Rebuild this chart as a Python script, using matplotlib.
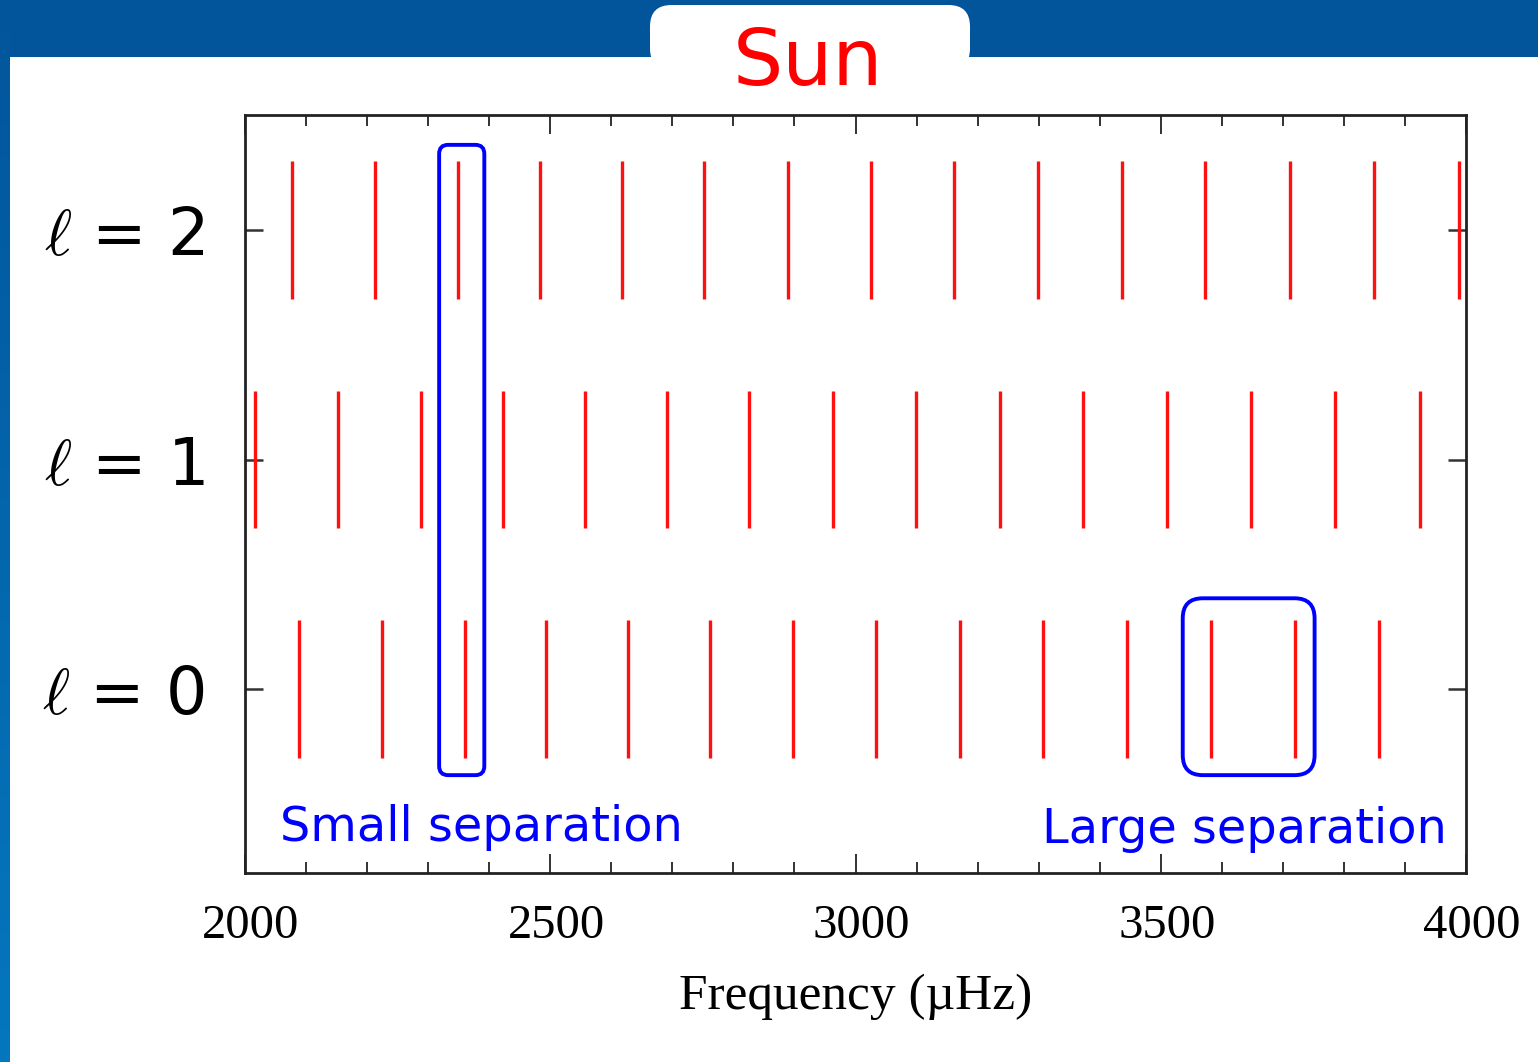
"""Solar p-mode frequencies for l = 0, 1, 2 with small/large separation markers."""

import matplotlib

matplotlib.use("Agg")
import matplotlib.pyplot as plt
import matplotlib.transforms as mtransforms
import numpy as np
from matplotlib.patches import FancyBboxPatch, Rectangle

# mode frequencies (muHz)
FREQ_L0 = [2088, 2225, 2360, 2493, 2627, 2762, 2898, 3034, 3171, 3307, 3444, 3582, 3720, 3858]
FREQ_L1 = [2017, 2153, 2288, 2423, 2557, 2692, 2826, 2963, 3099, 3236, 3373, 3510, 3648, 3786, 3924]
FREQ_L2 = [2077, 2213, 2349, 2483, 2617, 2752, 2889, 3025, 3162, 3299, 3436, 3573, 3711, 3850, 3988]
DEGREES = [0, 1, 2]
DEGREE_LABELS = [r"$\ell$ = 0", r"$\ell$ = 1", r"$\ell$ = 2"]
XTICKS = [2000, 2500, 3000, 3500, 4000]

# annotation boxes: (x0, x1, y0, y1) in data units
SMALL_BOX = (2318, 2392, -0.374, 2.37)
LARGE_BOX = (3536, 3752, -0.374, 0.396)

W, H = 1538, 1062
BAND = "#02559b"


def main() -> None:
    plt.rcParams.update({"mathtext.fontset": "cm"})
    fig = plt.figure(figsize=(W / 100, H / 100), dpi=100)
    fig.patch.set_facecolor(BAND)

    # slide decoration: left gradient strip, white page, title tab
    strip = fig.add_axes([0, 0, 10 / W, 1])
    grad = np.linspace(0, 1, 256).reshape(-1, 1)
    strip.imshow(grad, aspect="auto", cmap=matplotlib.colors.LinearSegmentedColormap.from_list(
        "strip", ["#0577bf", BAND]), origin="lower", extent=[0, 1, 0, 1])
    strip.axis("off")
    fig.patches.append(Rectangle((10 / W, 0), 1, 1 - 57 / H, transform=fig.transFigure,
                                 facecolor="white", edgecolor="none", zorder=-2))
    fig.patches.append(FancyBboxPatch((650 / W, 1 - 70 / H), 320 / W, 65 / H,
                                      boxstyle="round,pad=0,rounding_size=0.014",
                                      mutation_aspect=W / H,
                                      transform=fig.transFigure, facecolor="white",
                                      edgecolor="none", zorder=-2))
    fig.text(808 / W, 1 - 63 / H, "Sun", color="#ff0000", fontsize=57,
             family="DejaVu Sans", ha="center", va="center")

    ax = fig.add_axes([245 / W, 1 - 873 / H, 1221 / W, 758 / H])
    ax.set_xlim(2000, 4000)
    ax.set_ylim(-0.8, 2.5)

    for deg, freqs in zip(DEGREES, [FREQ_L0, FREQ_L1, FREQ_L2]):
        ax.vlines(freqs, deg - 0.3, deg + 0.3, color="#ff1010", lw=2.4)

    # rounded boxes, corner radius in pixels converted to data units
    px_x = ax.bbox.width / 2000.0
    px_y = ax.bbox.height / 3.3
    for (x0, x1, y0, y1), rad_px in [(SMALL_BOX, 9), (LARGE_BOX, 20)]:
        ax.add_patch(FancyBboxPatch((x0, y0), x1 - x0, y1 - y0,
                                    boxstyle=f"round,pad=0,rounding_size={rad_px / px_x}",
                                    mutation_aspect=px_x / px_y,
                                    facecolor="none", edgecolor="#0000ff", lw=2.8,
                                    clip_on=False, zorder=3))

    ax.text(2058, -0.6, "Small separation", color="#0000ff", fontsize=34.5,
            family="DejaVu Sans", ha="left", va="center")
    ax.text(3968, -0.61, "Large separation", color="#0000ff", fontsize=34.5,
            family="DejaVu Sans", ha="right", va="center")

    ax.set_xticks(XTICKS)
    ax.set_xticks(np.arange(2100, 4000, 100), minor=True)
    ax.set_xticklabels([str(t) for t in XTICKS], family="Liberation Serif", fontsize=35)
    ax.set_yticks(DEGREES)
    ax.set_yticklabels(DEGREE_LABELS, fontsize=47, family="DejaVu Sans")
    ax.tick_params(axis="x", which="major", direction="in", length=14, width=1.3,
                   top=True, pad=22, colors="#222222", labelcolor="black")
    ax.tick_params(axis="x", which="minor", direction="in", length=8, width=1.3,
                   top=True, colors="#222222")
    ax.tick_params(axis="y", which="major", direction="in", length=13, width=1.8,
                   right=True, pad=29, colors="#333333", labelcolor="black")
    # the original tick labels sit a few pixels right of their ticks
    shift = mtransforms.ScaledTranslation(6 / 100, 0, fig.dpi_scale_trans)
    for lab in ax.get_xticklabels():
        lab.set_transform(lab.get_transform() + shift)
    for sp in ax.spines.values():
        sp.set_linewidth(2.0)
        sp.set_color("#222222")
    ax.set_xlabel("Frequency (\u00b5Hz)", family="Liberation Serif", fontsize=37, labelpad=19)

    fig.savefig("out.png", dpi=100, facecolor=fig.get_facecolor())
    plt.close(fig)


if __name__ == "__main__":
    main()
